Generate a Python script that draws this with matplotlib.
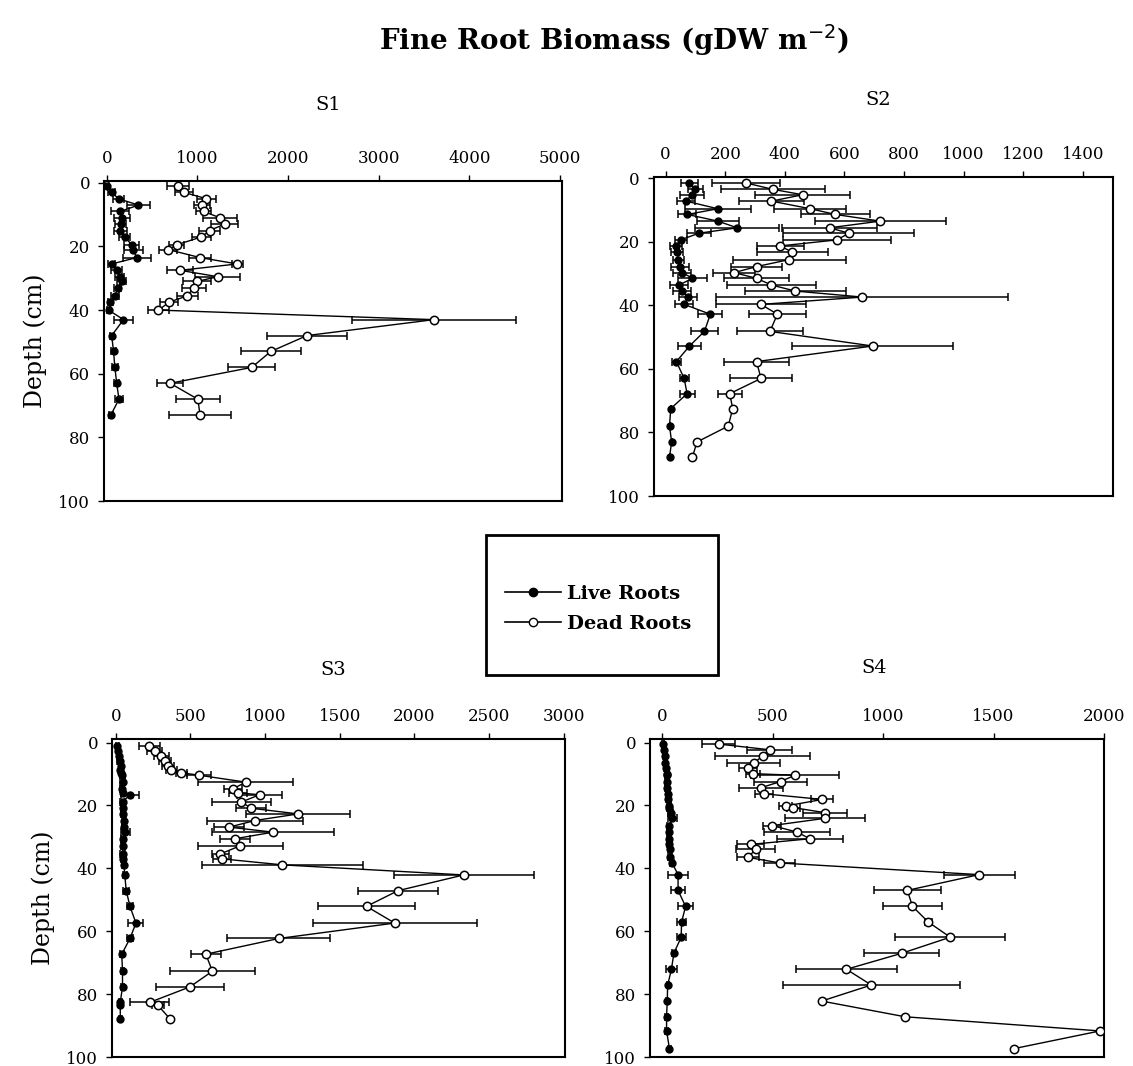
import matplotlib.pyplot as plt
import matplotlib.lines as mlines
from matplotlib.patches import Rectangle

# --- DATA ---
# S1
s1_depth = [1, 3, 5, 7, 9, 11, 13, 15, 17, 19.5, 21, 23.5, 25.5, 27.5, 29.5, 31, 33, 35.5,
            37.5, 40, 43, 48, 53, 58, 63, 68, 73]
s1_live = [0, 55, 130, 350, 150, 165, 155, 150, 200, 275, 295, 330, 55, 110, 145, 165, 120, 90,
           40, 20, 185, 55, 75, 90, 110, 135, 45]
s1_live_err = [20, 40, 60, 130, 100, 90, 60, 70, 60, 80, 100, 155, 40, 60, 50, 50, 40, 40,
               30, 20, 110, 20, 30, 30, 30, 40, 20]
s1_dead = [785, 850, 1100, 1050, 1070, 1250, 1300, 1135, 1045, 770, 680, 1030, 1440, 810, 1225,
           995, 960, 890, 690, 570, 3610, 2210, 1810, 1600, 700, 1005, 1030]
s1_dead_err = [120, 100, 105, 90, 80, 190, 150, 120, 100, 80, 100, 120, 60, 140, 250, 150, 130,
               120, 100, 120, 900, 440, 330, 260, 140, 240, 345]

# S2
s2_depth = [1.5, 3.5, 5.2, 7.2, 9.6, 11.4, 13.5, 15.6, 17.3, 19.4, 21.3, 23.3, 25.6, 27.8, 29.7,
            31.5, 33.6, 35.5, 37.4, 39.7, 42.8, 48.2, 52.8, 57.7, 63, 67.8, 72.5, 78, 83, 87.7]
s2_live = [80, 100, 88, 68, 175, 73, 175, 240, 112, 50, 34, 38, 43, 47, 56, 90, 45, 56, 76, 62,
           150, 130, 80, 36, 62, 72, 17, 13, 20, 13]
s2_live_err = [30, 25, 40, 30, 110, 30, 70, 140, 40, 20, 20, 20, 20, 30, 30, 50, 30, 30, 30, 30,
               40, 45, 40, 15, 15, 25, 0, 0, 0, 0]
s2_dead = [270, 360, 460, 355, 485, 570, 720, 550, 615, 575, 385, 425, 415, 305, 230, 305, 355,
           435, 660, 320, 375, 350, 695, 305, 320, 215, 225, 210, 105, 90]
s2_dead_err = [115, 175, 160, 110, 120, 115, 220, 160, 220, 180, 80, 120, 190, 85, 70, 110, 150,
               170, 490, 150, 95, 110, 270, 110, 105, 40, 0, 0, 0, 0]

# S3
s3_depth = [1.1, 2.8, 4.3, 6.0, 7.4, 8.8, 9.6, 10.4, 12.6, 14.7, 16, 16.6, 18.9, 20.9, 22.7, 24.8,
            26.9, 28.5, 30.6, 32.8, 35.4, 37, 38.9, 42.1, 47.1, 52.1, 57.4, 62.3, 67.3, 72.7,
            77.7, 82.6, 83.6, 87.8]
s3_live = [10, 15, 20, 25, 35, 30, 35, 40, 45, 40, 50, 95, 45, 50, 50, 55, 55, 65, 50, 50, 45,
           50, 55, 60, 70, 95, 135, 95, 40, 45, 45, 30, 30, 30]
s3_live_err = [10, 10, 10, 15, 15, 10, 10, 15, 15, 10, 15, 60, 15, 15, 15, 15, 15, 30, 15, 15,
               15, 15, 15, 15, 20, 20, 50, 20, 15, 10, 10, 10, 10, 10]
s3_dead = [223, 261, 306, 328, 350, 373, 440, 558, 870, 786, 819, 964, 841, 908, 1221, 931, 759,
           1054, 797, 835, 701, 714, 1116, 2330, 1890, 1679, 1868, 1092, 603, 647, 496, 228,
           283, 362]
s3_dead_err = [70, 50, 50, 40, 40, 40, 40, 80, 320, 60, 60, 150, 200, 100, 350, 320, 100, 410,
               100, 285, 60, 60, 540, 470, 270, 325, 550, 345, 100, 285, 230, 130, 40, 0]

# S4
s4_depth = [0.5, 2.3, 4.3, 6.4, 8.2, 9.9, 10.4, 12.4, 14.4, 16.3, 18.1, 20.2, 20.7, 22.3, 24.1,
            26.4, 28.5, 30.6, 32.4, 34, 36.5, 38.3, 42, 47, 52.1, 57.1, 61.9, 67, 72.1, 77.1,
            82.2, 87.2, 91.7, 97.3]
s4_live = [5, 8, 12, 15, 18, 20, 20, 20, 22, 25, 28, 32, 33, 38, 45, 30, 30, 32, 32, 35, 35, 45,
           72, 72, 106, 88, 86, 53, 42, 25, 23, 20, 20, 33]
s4_live_err = [5, 5, 8, 8, 8, 8, 8, 8, 8, 8, 10, 10, 10, 10, 20, 10, 10, 10, 10, 10, 10, 10, 45,
               30, 35, 20, 20, 10, 25, 5, 5, 5, 5, 5]
s4_dead = [257, 486, 456, 415, 390, 411, 601, 536, 446, 461, 725, 559, 594, 737, 737, 498, 612,
           668, 400, 423, 388, 533, 1435, 1110, 1133, 1205, 1304, 1085, 834, 947, 722, 1100,
           1982, 1594]
s4_dead_err = [75, 100, 215, 120, 40, 30, 200, 120, 100, 40, 50, 30, 30, 100, 180, 40, 150, 150,
               60, 90, 50, 70, 160, 150, 135, 15, 250, 170, 230, 400, 0, 0, 0, 0]

panels = [
    ('S1', s1_depth, s1_live, s1_live_err, s1_dead, s1_dead_err,
     [0, 1000, 2000, 3000, 4000, 5000], (-30, 5020), (100, -0.5)),
    ('S2', s2_depth, s2_live, s2_live_err, s2_dead, s2_dead_err,
     [0, 200, 400, 600, 800, 1000, 1200, 1400], (-40, 1500), (100, -0.3)),
    ('S3', s3_depth, s3_live, s3_live_err, s3_dead, s3_dead_err,
     [0, 500, 1000, 1500, 2000, 2500, 3000], (-25, 3010), (100, -1)),
    ('S4', s4_depth, s4_live, s4_live_err, s4_dead, s4_dead_err,
     [0, 500, 1000, 1500, 2000], (-55, 2000), (100, -1)),
]

positions = [
    [0.0918, 0.530, 0.404, 0.300],
    [0.577, 0.5347, 0.405, 0.299],
    [0.0989, 0.0084, 0.400, 0.298],
    [0.5737, 0.0084, 0.4007, 0.298],
]
title_pos = [(0.2895, 0.9015), (0.775, 0.906), (0.294, 0.3715), (0.772, 0.373)]

plt.rcParams['font.family'] = ['DejaVu Serif']

fig = plt.figure(figsize=(11.33, 10.66), dpi=100)
fig.patch.set_facecolor('white')

for i, (name, depth, live, live_err, dead, dead_err, xticks, xlim, ylim) in enumerate(panels):
    ax = fig.add_axes(positions[i])
    ax.errorbar(dead, depth, xerr=dead_err, color='black', lw=1.0, elinewidth=1.1, capsize=3,
                capthick=1.1, marker='o', ms=6, mfc='white', mec='black', mew=1.1, zorder=3)
    ax.errorbar(live, depth, xerr=live_err, color='black', lw=1.0, elinewidth=1.1, capsize=3,
                capthick=1.1, marker='o', ms=5, mfc='black', mec='black', zorder=4)
    ax.set_xlim(*xlim)
    ax.set_ylim(*ylim)
    ax.xaxis.tick_top()
    ax.set_xticks(xticks)
    ax.set_yticks([0, 20, 40, 60, 80, 100])
    ax.tick_params(direction='out', length=4, width=1, labelsize=12, colors='black', pad=6)
    for s in ax.spines.values():
        s.set_linewidth(1.5)
        s.set_color('black')
    if i % 2 == 0:
        ax.set_ylabel('Depth (cm)', fontsize=17, labelpad=8)
    fig.text(title_pos[i][0], title_pos[i][1], name, ha='center', va='center', fontsize=14)

fig.text(0.542, 0.962, 'Fine Root Biomass (gDW m$^{-2}$)', ha='center', va='center',
         fontsize=20, fontweight='bold')

# legend box drawn by hand so its padding can match
fig.patches.append(Rectangle((486 / 1133, 1 - 675 / 1066), 232 / 1133, 140 / 1066,
                             transform=fig.transFigure, fill=False, lw=2, ec='black'))
live_h = mlines.Line2D([], [], color='black', lw=1.2, marker='o', ms=6, mfc='black')
dead_h = mlines.Line2D([], [], color='black', lw=1.2, marker='o', ms=6, mfc='white')
fig.legend([live_h, dead_h], ['Live Roots', 'Dead Roots'], loc='center left',
           bbox_to_anchor=(495 / 1133, 1 - 609 / 1066), frameon=False, borderpad=0,
           prop={'size': 14, 'weight': 'bold'}, handlelength=2.9, handletextpad=0.3,
           labelspacing=0.6)

plt.savefig('out.png', dpi=100)
